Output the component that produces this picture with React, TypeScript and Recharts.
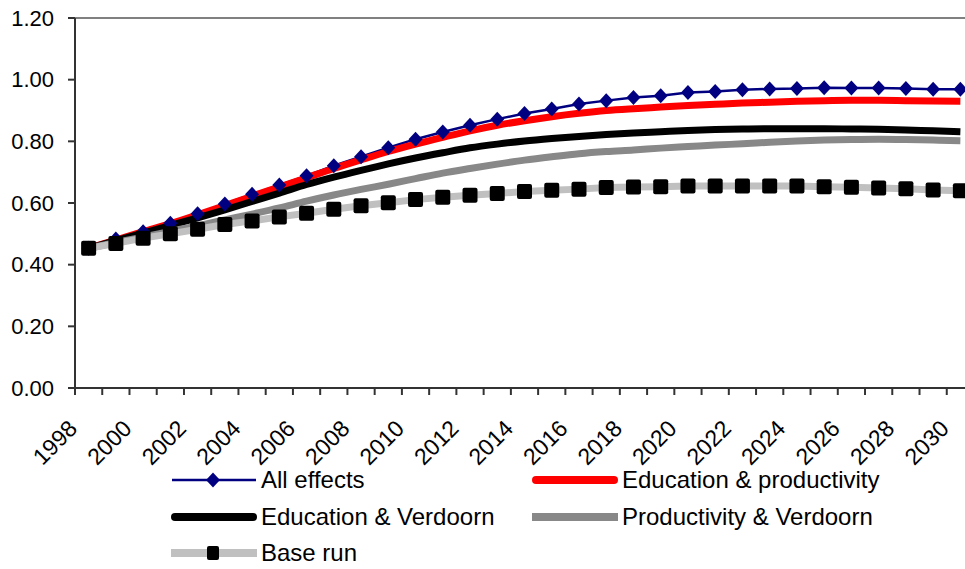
import { LineChart, Line, XAxis, YAxis, ReferenceLine } from "recharts";

const years = [
  1998, 1999, 2000, 2001, 2002, 2003, 2004, 2005, 2006, 2007, 2008,
  2009, 2010, 2011, 2012, 2013, 2014, 2015, 2016, 2017, 2018, 2019,
  2020, 2021, 2022, 2023, 2024, 2025, 2026, 2027, 2028, 2029, 2030,
];

const allEffects = [
  0.453, 0.483, 0.507, 0.534, 0.565, 0.597, 0.628, 0.658, 0.688, 0.721, 0.75,
  0.779, 0.807, 0.83, 0.852, 0.872, 0.89, 0.905, 0.921, 0.932, 0.942, 0.948,
  0.958, 0.962, 0.967, 0.97, 0.971, 0.974, 0.973, 0.973, 0.971, 0.969, 0.969,
];
const eduProductivity = [
  0.453, 0.48, 0.507, 0.533, 0.562, 0.592, 0.622, 0.652, 0.682, 0.712, 0.74,
  0.767, 0.791, 0.813, 0.834, 0.852, 0.867, 0.88, 0.891, 0.9, 0.906, 0.911,
  0.916, 0.92, 0.924, 0.927, 0.93, 0.932, 0.933, 0.933, 0.932, 0.931, 0.93,
];
const eduVerdoorn = [
  0.453, 0.478, 0.502, 0.527, 0.552, 0.578, 0.605, 0.632, 0.66, 0.684, 0.706,
  0.727, 0.746, 0.763, 0.779, 0.791, 0.801, 0.809, 0.816, 0.822, 0.827, 0.831,
  0.835, 0.838, 0.84, 0.841, 0.841, 0.841, 0.84, 0.839, 0.837, 0.834, 0.831,
];
const prodVerdoorn = [
  0.453, 0.472, 0.49, 0.508, 0.526, 0.545, 0.564, 0.584, 0.606, 0.626, 0.644,
  0.661, 0.679, 0.697, 0.712, 0.726, 0.739, 0.75, 0.76, 0.767, 0.772, 0.778,
  0.783, 0.788, 0.792, 0.797, 0.801, 0.804, 0.806, 0.807, 0.806, 0.804, 0.802,
];
const baseRun = [
  0.453, 0.469, 0.486, 0.5, 0.515, 0.53, 0.542, 0.555, 0.567, 0.58, 0.591,
  0.601, 0.611, 0.619, 0.625, 0.631, 0.637, 0.641, 0.645, 0.65, 0.652, 0.653,
  0.655, 0.655, 0.655, 0.655, 0.655, 0.653, 0.651, 0.649, 0.646, 0.642, 0.64,
];

const yTicks = [0, 0.2, 0.4, 0.6, 0.8, 1.0, 1.2];

const rows = years.map((year, i) => ({
  year,
  all: allEffects[i],
  eduProd: eduProductivity[i],
  eduVerd: eduVerdoorn[i],
  prodVerd: prodVerdoorn[i],
  base: baseRun[i],
}));

// tick marks sit on the category boundaries, labels on every second year
const boundaries = [...years.map((y) => y - 0.5), years[years.length - 1] + 0.5];

const FONT = "'Liberation Sans', Arial, sans-serif";
const AXIS = "#333333";
const NAVY = "#000080";
const RED = "#ff0000";
const GREY = "#888888";
const LIGHT = "#c0c0c0";

function YearTick(props: any) {
  const { x, y, payload, width } = props;
  const year = payload.value + 0.5;
  if (year % 2 !== 0 || year > years[years.length - 1]) return null;
  const half = (width ?? 899) / (years.length * 2);
  const ax = x + half - 10;
  const ay = y + 35;
  return (
    <text
      x={ax}
      y={ay}
      transform={`rotate(-45 ${ax} ${ay})`}
      textAnchor="end"
      fontSize={23}
      fontFamily={FONT}
      fill="#000"
    >
      {year}
    </text>
  );
}

function Diamond(props: any) {
  const { cx, cy } = props;
  if (cx == null || cy == null) return null;
  return (
    <polygon
      points={`${cx},${cy - 7.5} ${cx + 7},${cy} ${cx},${cy + 7.5} ${cx - 7},${cy}`}
      fill={NAVY}
    />
  );
}

function Square(props: any) {
  const { cx, cy } = props;
  if (cx == null || cy == null) return null;
  return <rect x={cx - 7.5} y={cy - 7.5} width={15} height={15} rx={2} fill="#000" />;
}

const legendItems = [
  { label: "All effects", kind: "diamond", col: 0, row: 0 },
  { label: "Education & productivity", kind: "red", col: 1, row: 0 },
  { label: "Education & Verdoorn", kind: "black", col: 0, row: 1 },
  { label: "Productivity & Verdoorn", kind: "grey", col: 1, row: 1 },
  { label: "Base run", kind: "square", col: 0, row: 2 },
];

function LegendIcon({ kind }: { kind: string }) {
  return (
    <svg width={88} height={20} style={{ display: "block" }}>
      {kind === "diamond" && (
        <>
          <line x1={2} y1={10} x2={86} y2={10} stroke={NAVY} strokeWidth={2.5} />
          <polygon points="43,2.5 50,10 43,17.5 36,10" fill={NAVY} />
        </>
      )}
      {kind === "red" && (
        <line x1={5} y1={10} x2={83} y2={10} stroke={RED} strokeWidth={8} strokeLinecap="round" />
      )}
      {kind === "black" && (
        <line x1={5} y1={10} x2={83} y2={10} stroke="#000" strokeWidth={8} strokeLinecap="round" />
      )}
      {kind === "grey" && <line x1={1} y1={10} x2={87} y2={10} stroke={GREY} strokeWidth={8} />}
      {kind === "square" && (
        <>
          <line x1={1} y1={10} x2={87} y2={10} stroke={LIGHT} strokeWidth={8} />
          <rect x={37} y={3} width={12} height={14} rx={2} fill="#000" />
        </>
      )}
    </svg>
  );
}

function ChartLegend() {
  const colX = [170, 531];
  const rowY = [480, 517, 553];
  return (
    <>
      {legendItems.map((it) => (
        <div
          key={it.label}
          style={{
            position: "absolute",
            left: colX[it.col],
            top: rowY[it.row] - 14,
            height: 28,
            display: "flex",
            alignItems: "center",
            fontFamily: FONT,
            fontSize: 24,
            color: "#000",
            whiteSpace: "nowrap",
          }}
        >
          <LegendIcon kind={it.kind} />
          <span style={{ marginLeft: 3 }}>{it.label}</span>
        </div>
      ))}
    </>
  );
}

export default function App() {
  return (
    <div
      style={{
        position: "absolute",
        left: 0,
        top: 0,
        width: 965,
        height: 569,
        overflow: "hidden",
        background: "#fff",
      }}
    >
      <LineChart
        width={980}
        height={569}
        data={rows}
        margin={{ top: 18, right: 6, bottom: 111, left: 0 }}
      >
        <XAxis
          dataKey="year"
          type="number"
          domain={[1997.5, 2030.5]}
          ticks={boundaries}
          interval={0}
          height={70}
          tickSize={7}
          tickMargin={0}
          stroke={AXIS}
          strokeWidth={2}
          tick={<YearTick />}
        />
        <YAxis
          domain={[0, 1.2]}
          ticks={yTicks}
          width={75}
          tickSize={7}
          tickMargin={14}
          stroke={AXIS}
          strokeWidth={2}
          tickFormatter={(v: number) => v.toFixed(2)}
          tick={{ fontSize: 22, fontFamily: FONT, fill: "#000" }}
        />
        <ReferenceLine y={1.2} stroke="#808080" strokeWidth={2} />
        <Line
          type="linear"
          dataKey="all"
          stroke={NAVY}
          strokeWidth={2.5}
          dot={<Diamond />}
          activeDot={false}
          isAnimationActive={false}
        />
        <Line
          type="monotone"
          dataKey="eduProd"
          stroke={RED}
          strokeWidth={7}
          dot={false}
          activeDot={false}
          isAnimationActive={false}
        />
        <Line
          type="monotone"
          dataKey="eduVerd"
          stroke="#000"
          strokeWidth={7}
          dot={false}
          activeDot={false}
          isAnimationActive={false}
        />
        <Line
          type="monotone"
          dataKey="prodVerd"
          stroke={GREY}
          strokeWidth={7}
          dot={false}
          activeDot={false}
          isAnimationActive={false}
        />
        <Line
          type="linear"
          dataKey="base"
          stroke={LIGHT}
          strokeWidth={7}
          dot={<Square />}
          activeDot={false}
          isAnimationActive={false}
        />
      </LineChart>
      <ChartLegend />
    </div>
  );
}
